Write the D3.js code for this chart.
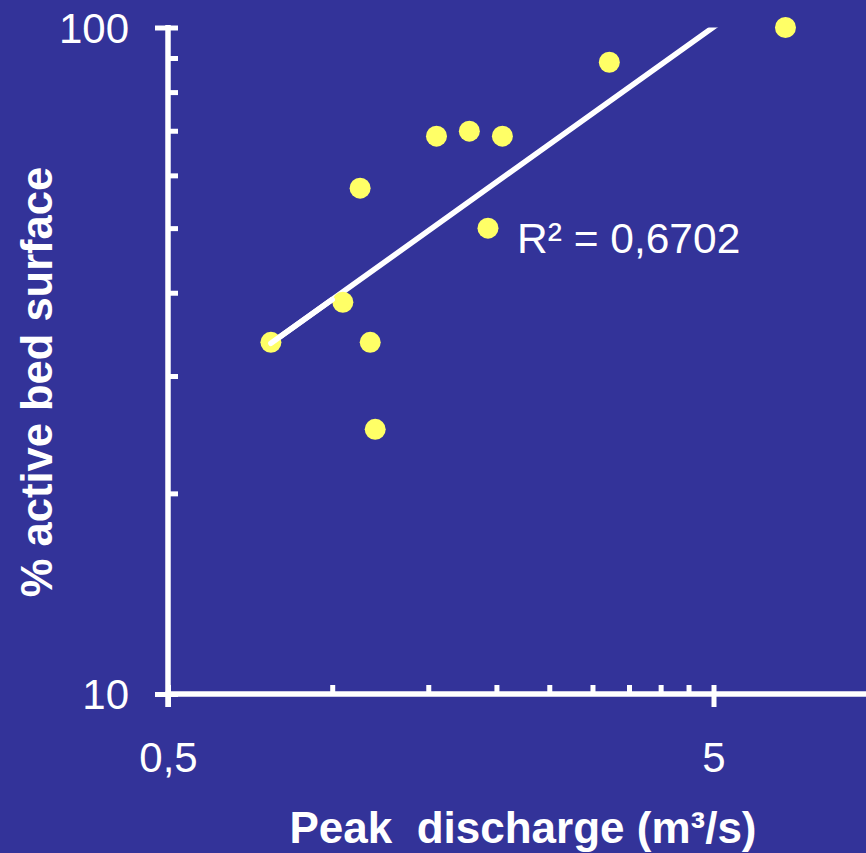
<!DOCTYPE html>
<html>
<head>
<meta charset="utf-8">
<script src="https://cdn.jsdelivr.net/npm/d3@7"></script>
<style>
  body { margin: 0; background: #333399; }
  svg { display: block; }
  text { font-family: Arial, "Liberation Sans", sans-serif; fill: #fff; }
</style>
</head>
<body>
<script>
var width = 866,
    height = 853;

var bg = '#333399',
    dotColor = '#ffff66';

// peak discharge (m3/s) and % active bed surface
var discharge = [0.772, 1.046, 1.125, 1.174, 1.199, 1.553, 1.784, 2.051, 1.930, 3.221, 6.775];
var activeBed = [33.7, 38.7, 57.4, 33.7, 24.95, 68.7, 69.9, 68.7, 50.0, 88.7, 100];

var xMajor = [0.5, 5],
    xMinor = [1, 1.5, 2, 2.5, 3, 3.5, 4, 4.5];
var yMajor = [10, 100],
    yMinor = [20, 30, 40, 50, 60, 70, 80, 90];
var xLabels = ['0,5', '5'];
var r2Label = 'R\u00b2 = 0,6702';

var data = discharge.map((d, i) => ({x: d, y: activeBed[i]}));

var svg = d3.select('body')
  .append('svg')
  .attr('width', width)
  .attr('height', height);

svg.append('rect')
  .attr('width', width)
  .attr('height', height)
  .style('fill', bg);

var x = d3.scaleLog()
  .domain([0.5, 5])
  .range([168, 713.5]);

var y = d3.scaleLog()
  .domain([10, 100])
  .range([694, 27.5]);

// power trend line, fitted in log-log space
var lx = data.map(d => Math.log10(d.x)),
    ly = data.map(d => Math.log10(d.y));
var mx = d3.mean(lx), my = d3.mean(ly);
var sxy = d3.sum(lx, (v, i) => (v - mx) * (ly[i] - my)),
    sxx = d3.sum(lx, v => (v - mx) * (v - mx));
var slope = sxy / sxx,
    icpt = my - slope * mx;
var trendX = [d3.min(discharge), d3.max(discharge)];
var trend = trendX.map(v => ({x: v, y: Math.pow(10, icpt + slope * Math.log10(v))}));

svg.append('clipPath')
  .attr('id', 'plot')
  .append('rect')
  .attr('x', x(0.5))
  .attr('y', y(100))
  .attr('width', width - x(0.5))
  .attr('height', y(10) - y(100));

// axes lines
svg.append('line')
  .attr('x1', x(0.5)).attr('x2', x(0.5))
  .attr('y1', y(100) - 2.5).attr('y2', 707)
  .style('stroke', '#fff').style('stroke-width', 5.5);

svg.append('line')
  .attr('x1', x(0.5) - 2.5).attr('x2', width)
  .attr('y1', y(10)).attr('y2', y(10))
  .style('stroke', '#fff').style('stroke-width', 5.5);

function styleAxis(g) {
  g.select('.domain').remove();
  g.selectAll('line').style('stroke', '#fff').style('stroke-width', 5);
  g.selectAll('text').style('fill', '#fff').style('font-size', '42px')
    .style('font-family', 'Arial, "Liberation Sans", sans-serif');
}

// y axis: ticks on the right (all), majors also on the left with labels
svg.append('g')
  .attr('transform', 'translate(' + x(0.5) + ',0)')
  .call(d3.axisRight(y).tickValues(yMajor.concat(yMinor)).tickSize(10).tickFormat(''))
  .call(styleAxis);

svg.append('g')
  .attr('transform', 'translate(' + x(0.5) + ',0)')
  .call(d3.axisLeft(y).tickValues(yMajor).tickSize(13).tickPadding(26).tickFormat(d3.format('d')))
  .call(styleAxis)
  .selectAll('text').attr('dy', '0.35em');

// x axis: minor ticks inside, majors crossing with labels
svg.append('g')
  .attr('transform', 'translate(0,' + y(10) + ')')
  .call(d3.axisTop(x).tickValues(xMajor.concat(xMinor)).tickSize(9).tickFormat(''))
  .call(styleAxis);

svg.append('g')
  .attr('transform', 'translate(0,' + y(10) + ')')
  .call(d3.axisBottom(x).tickValues(xMajor).tickSize(13).tickPadding(35)
    .tickFormat((d, i) => xLabels[i]))
  .call(styleAxis);

// trend line
svg.append('path')
  .datum(trend)
  .attr('clip-path', 'url(#plot)')
  .attr('d', d3.line().x(d => x(d.x)).y(d => y(d.y)))
  .style('fill', 'none')
  .style('stroke', '#fff')
  .style('stroke-width', 5.5)
  .style('stroke-linecap', 'round');

svg.selectAll('circle.dot')
  .data(data)
  .enter()
  .append('circle')
  .attr('class', 'dot')
  .attr('r', 10.5)
  .attr('cx', d => x(d.x))
  .attr('cy', d => y(d.y))
  .style('fill', dotColor);

// re-draw trend start over the first dot, as in the original
svg.append('path')
  .datum([trend[0], {x: 1.0, y: Math.pow(10, icpt)}])
  .attr('d', d3.line().x(d => x(d.x)).y(d => y(d.y)))
  .style('fill', 'none')
  .style('stroke', '#fff')
  .style('stroke-width', 5.5)
  .style('stroke-linecap', 'round');

svg.append('text')
  .attr('x', 517)
  .attr('y', 253)
  .style('font-size', '42.5px')
  .text(r2Label);

svg.append('text')
  .attr('x', 523)
  .attr('y', 843)
  .attr('text-anchor', 'middle')
  .style('font-size', '44px')
  .style('font-weight', 'bold')
  .style('white-space', 'pre')
  .text('Peak  discharge (m\u00b3/s)');

svg.append('text')
  .attr('transform', 'translate(52,382) rotate(-90)')
  .attr('text-anchor', 'middle')
  .style('font-size', '43.5px')
  .style('font-weight', 'bold')
  .text('% active bed surface');
</script>
</body>
</html>
